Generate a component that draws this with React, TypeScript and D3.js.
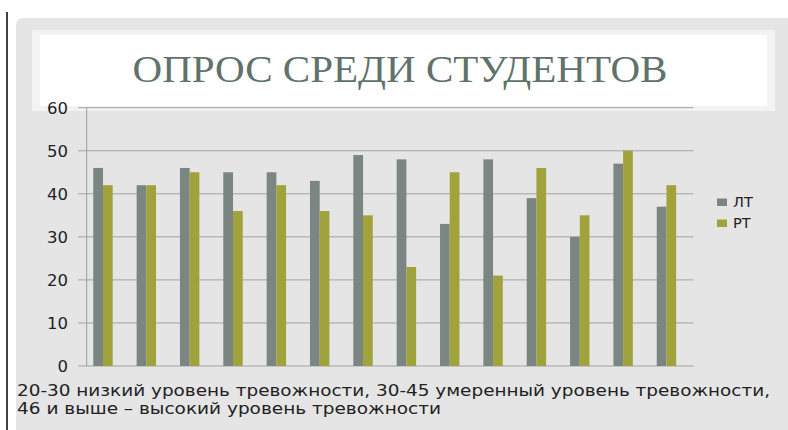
import React from "react";
import * as d3 from "d3";

const categories = ["1", "2", "3", "4", "5", "6", "7", "8", "9", "10", "11", "12", "13", "14"];
const seriesNames = ["ЛТ", "РТ"];
const valuesLT = [46, 42, 46, 45, 45, 43, 49, 48, 33, 48, 39, 30, 47, 37];
const valuesRT = [42, 42, 45, 36, 42, 36, 35, 23, 45, 21, 46, 35, 50, 42];
const yTicks = [0, 10, 20, 30, 40, 50, 60];
const title = "ОПРОС СРЕДИ СТУДЕНТОВ";
const noteLines = [
  "20-30 низкий уровень тревожности, 30-45 умеренный уровень тревожности,",
  "46 и выше – высокий уровень тревожности",
];

const W = 788;
const H = 430;
const colors = ["#7b8682", "#a0a33b"];
const sans = "'DejaVu Sans', 'Noto Sans', sans-serif";

export default function App() {
  const plotLeft = 86.7;
  const plotRight = 693.5;
  const y = d3.scaleLinear().domain([0, 60]).range([366, 107.7]);
  const x = d3
    .scaleBand<string>()
    .domain(categories)
    .range([plotLeft, plotRight])
    .paddingInner(0.552)
    .paddingOuter(0.276)
    .align(0.275);
  const xs = d3.scaleBand<string>().domain(seriesNames).range([0, x.bandwidth()]);
  const series = [valuesLT, valuesRT];

  return (
    <svg
      width={W}
      height={H}
      viewBox={`0 0 ${W} ${H}`}
      style={{ position: "absolute", left: 0, top: 0, display: "block" }}
    >
      <rect x={0} y={0} width={W} height={H} fill="#ffffff" />
      <line x1={7} x2={7} y1={12} y2={H} stroke="#111" strokeWidth={1.6} />
      <path
        d={`M16,${H} L16,26 Q16,18 24,18 L${W},18 L${W},${H} Z`}
        fill="#e5e5e5"
      />
      <rect x={32} y={30} width={743} height={81} fill="#f3f3f3" />
      <rect x={40} y={35} width={727} height={71} fill="#ffffff" />
      <text
        x={400}
        y={82}
        textAnchor="middle"
        fontFamily="'Liberation Serif', 'DejaVu Serif', serif"
        fontSize={37}
        fill="#607269"
        textLength={535}
        lengthAdjust="spacingAndGlyphs"
      >
        {title}
      </text>

      {yTicks.map((t) => (
        <g key={t}>
          <line x1={78} x2={plotRight} y1={y(t)} y2={y(t)} stroke="#a3a3a3" strokeWidth={1} />
          <text
            x={68}
            y={y(t)}
            dy="0.36em"
            textAnchor="end"
            fontFamily={sans}
            fontSize={16.5}
            fill="#222"
          >
            {t}
          </text>
        </g>
      ))}
      <line x1={plotLeft} x2={plotLeft} y1={y(60)} y2={y(0)} stroke="#9a9a9a" strokeWidth={1} />

      {categories.map((c, i) => (
        <g key={c} transform={`translate(${x(c)},0)`}>
          {seriesNames.map((s, j) => (
            <rect
              key={s}
              x={xs(s)}
              y={y(series[j][i])}
              width={xs.bandwidth()}
              height={y(0) - y(series[j][i])}
              fill={colors[j]}
            />
          ))}
        </g>
      ))}

      {seriesNames.map((s, j) => (
        <g key={s} transform={`translate(717,${198.5 + j * 21})`}>
          <rect x={0} y={0} width={10} height={7.5} fill={colors[j]} />
          <text x={16} y={8.5} fontFamily={sans} fontSize={14.5} fill="#222">
            {s}
          </text>
        </g>
      ))}

      {noteLines.map((l, i) => (
        <text
          key={i}
          x={17}
          y={396 + i * 18}
          fontFamily={sans}
          fontSize={15}
          fill="#222"
          textLength={i === 0 ? 753 : 424}
          lengthAdjust="spacingAndGlyphs"
        >
          {l}
        </text>
      ))}
    </svg>
  );
}
